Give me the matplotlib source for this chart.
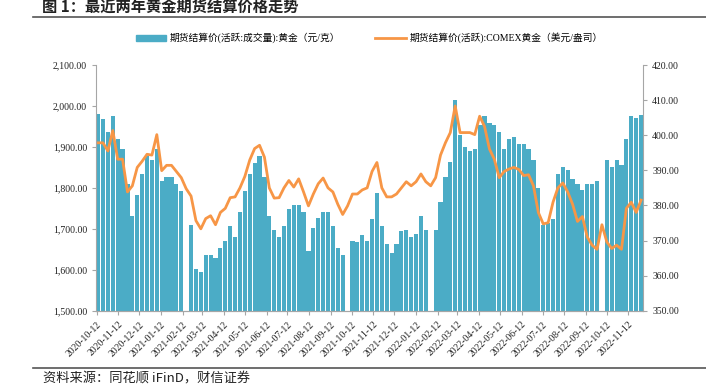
import numpy as np
import pandas as pd
import matplotlib
matplotlib.use('Agg')
import matplotlib.pyplot as plt
import matplotlib.dates as mdates
from matplotlib.lines import Line2D
from matplotlib.patches import Patch
from datetime import datetime

plt.rcParams['font.family'] = ['Liberation Serif', 'Noto Sans CJK SC', 'DejaVu Sans']

nan = np.nan
# weekly points (mid-week), 2020-10-14 .. 2022-11-30
weeks = pd.date_range('2020-10-14', periods=112, freq='7D')

# SHFE gold, yuan/gram (bars, right axis)
shfe = [406, 404.5, 401, 405.5, 399, 396, 386, 377, 383, 389,
        394, 393, 396, 387, 388, 388, 386, 384, nan, 374.5,
        362, 361, 366, 366, 365, 368, 370, 374, 371, 378,
        384, 389, 392, 394, 388, 377, 373, 371, 374, 379,
        380, 380, 378, 367, 373.5, 376.5, 378, 378, 374, 368,
        366, nan, 370, 369.5, 371.5, 370, 376, 383.5, 374, 369,
        366.5, 369, 372.6, 373, 371, 372, 377, 373, nan, 373,
        381, 388, 392.5, 410, 400, 396.5, 395.5, 396, 403, 405.5,
        403.5, 403, 401, 396, 398.8, 399.5, 397.6, 397.4, 396, 393,
        385, 374.5, 375, 376, 389, 391, 390, 387.5, 386, 384.5,
        386, 386, 387, nan, 393, 391, 393, 391.5, 399, 405.5,
        405, 405.8]

# COMEX gold, usd/oz (line, left axis)
comex = [1910, 1910, 1890, 1940, 1870, 1870, 1790, 1805, 1850, 1865,
         1882, 1880, 1930, 1842, 1855, 1855, 1840, 1825, 1798, 1780,
         1720, 1700, 1725, 1732, 1710, 1740, 1750, 1776, 1778, 1800,
         1828, 1868, 1896, 1904, 1875, 1800, 1775, 1776, 1800, 1818,
         1802, 1822, 1790, 1756, 1785, 1810, 1824, 1800, 1790, 1760,
         1735, 1756, 1785, 1785, 1795, 1800, 1840, 1862, 1800, 1778,
         1778, 1785, 1800, 1815, 1805, 1815, 1834, 1815, 1805, 1825,
         1880, 1910, 1935, 2000, 1935, 1935, 1935, 1930, 1975, 1950,
         1895, 1870, 1825, 1840, 1846, 1850, 1845, 1830, 1832, 1805,
         1740, 1712, 1715, 1765, 1800, 1812, 1790, 1760, 1718, 1730,
         1680, 1660, 1650, 1710, 1668, 1652, 1660, 1650, 1750, 1765,
         1740, 1770]

tick_dates = [datetime(2020 + (9 + k) // 12, (9 + k) % 12 + 1, 12) for k in range(26)]

label_bar = '期货结算价(活跃:成交量):黄金（元/克）'
label_line = '期货结算价(活跃):COMEX黄金（美元/盎司）'
blue = '#4BACC6'
orange = '#F79646'

fig = plt.figure(figsize=(7.06, 3.86), dpi=100)
ax1 = fig.add_axes([0.136, 0.195, 0.775, 0.6366])
ax2 = ax1.twinx()

ax2.bar(weeks, shfe, width=6.0, color=blue, linewidth=0)
ax2.set_ylim(350, 420)
ax2.set_yticks(np.arange(350, 421, 10))
ax2.yaxis.set_major_formatter(plt.FuncFormatter(lambda v, p: '%.2f' % v))

ax1.plot(weeks, comex, color=orange, lw=2.0, solid_joinstyle='round')
ax1.set_ylim(1500, 2100)
ax1.set_yticks(np.arange(1500, 2101, 100))
ax1.yaxis.set_major_formatter(plt.FuncFormatter(lambda v, p: '{:,.2f}'.format(v)))
ax1.set_zorder(ax2.get_zorder() + 1)
ax1.patch.set_visible(False)

ax1.set_xlim(datetime(2020, 10, 11), datetime(2022, 12, 3))
ax1.set_xticks(tick_dates)
ax1.xaxis.set_major_formatter(mdates.DateFormatter('%Y-%m-%d'))
for lab in ax1.get_xticklabels():
    lab.set_rotation(45)
    lab.set_ha('right')
    lab.set_rotation_mode('anchor')

for ax in (ax1, ax2):
    ax.spines['top'].set_visible(False)
    for s in ('left', 'right', 'bottom'):
        ax.spines[s].set_color('#A6A6A6')
    ax.tick_params(labelsize=7, length=3, color='#A6A6A6', labelcolor='#222222')
ax1.spines['right'].set_visible(False)
ax2.spines['left'].set_visible(False)

handles = [Patch(color=blue), Line2D([], [], color=orange, lw=2)]
fig.legend(handles, [label_bar, label_line], loc='center', bbox_to_anchor=(0.523, 1 - 38 / 386),
           ncol=2, frameon=False, handlelength=3.1, handleheight=0.6,
           handletextpad=0.4, columnspacing=3.6,
           prop={'family': ['Liberation Serif', 'Noto Sans CJK SC'], 'size': 7})

fig.text(42 / 706, 1 - 7 / 386, '图 1：最近两年黄金期货结算价格走势', fontsize=11, fontweight='bold',
         family=['Noto Sans CJK SC', 'DejaVu Sans'], va='center', ha='left', color='#222222')
fig.add_artist(Line2D([33 / 706, 1], [1 - 17 / 386, 1 - 17 / 386], color='#555555', lw=1.2))
fig.add_artist(Line2D([33 / 706, 1], [1 - 368 / 386, 1 - 368 / 386], color='#555555', lw=1.2))
fig.text(43 / 706, 1 - 379 / 386, '资料来源：同花顺 iFinD，财信证券', fontsize=9.5, style='italic',
         family=['Noto Sans CJK SC', 'DejaVu Sans'], va='center', ha='left', color='#222222')

fig.savefig('out.png', dpi=100)
